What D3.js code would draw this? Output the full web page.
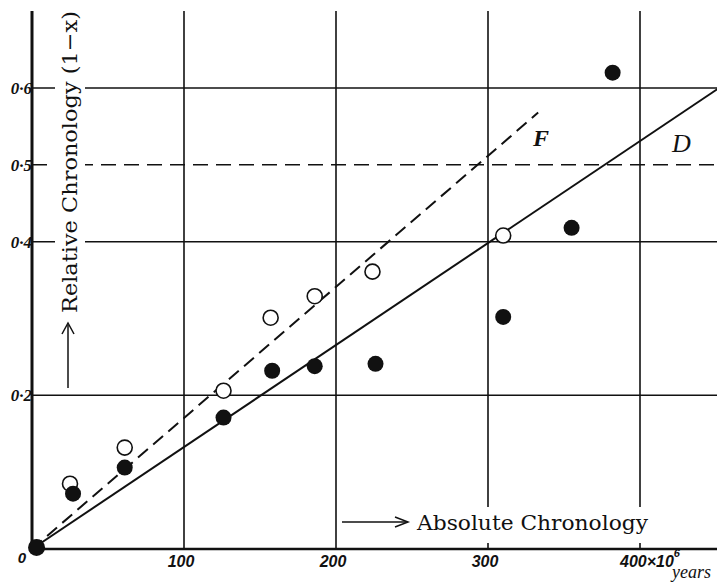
<!DOCTYPE html>
<html>
<head>
<meta charset="utf-8">
<script src="https://cdn.jsdelivr.net/npm/d3@7"></script>
<style>
  body { margin: 0; background: #fff; }
  svg { display: block; }
</style>
</head>
<body>
<div id="container"></div>
<script>
// Chart data
var xGrid = [100, 200, 300, 400];
var yGridSolid = [0.2, 0.4, 0.6];
var yGridDashed = [0.5];
var xTickLabels = ["100", "200", "300"];
var yTicks = [0.2, 0.4, 0.5, 0.6];
var yTickLabels = ["0·2", "0·4", "0·5", "0·6"];

// open circles (F)
var openX = [25, 61, 126, 157, 186, 224, 310];
var openY = [0.085, 0.132, 0.206, 0.301, 0.329, 0.361, 0.408];
// filled circles (D)
var filledX = [3, 27, 61, 126, 158, 186, 226, 310, 355, 382];
var filledY = [0.002, 0.072, 0.106, 0.171, 0.232, 0.238, 0.241, 0.302, 0.418, 0.62];

// fitted lines
var lineD = [[0, 0], [452, 0.6]];
var lineF = [[0, 0], [333, 0.568]];

var svg_width = 717
var svg_height = 582

var svg = d3.select("#container")
    .append("svg")
    .attr("width", svg_width)
    .attr("height", svg_height)

var x = d3.scaleLinear().domain([0, 400]).range([32, 640]);
var y = d3.scaleLinear().domain([0, 0.6]).range([549, 88]);

var ink = "#111";

// vertical grid
svg.append("g").selectAll("line")
    .data(xGrid)
    .enter()
    .append("line")
    .attr("x1", d => x(d)).attr("x2", d => x(d))
    .attr("y1", 11).attr("y2", y(0))
    .attr("stroke", ink).attr("stroke-width", 1.6);

// horizontal grid
svg.append("g").selectAll("line")
    .data(yGridSolid)
    .enter()
    .append("line")
    .attr("x1", x(0)).attr("x2", svg_width)
    .attr("y1", d => y(d)).attr("y2", d => y(d))
    .attr("stroke", ink).attr("stroke-width", 1.5);

svg.append("g").selectAll("line")
    .data(yGridDashed)
    .enter()
    .append("line")
    .attr("x1", x(0)).attr("x2", svg_width)
    .attr("y1", d => y(d)).attr("y2", d => y(d))
    .attr("stroke", ink).attr("stroke-width", 1.5)
    .attr("stroke-dasharray", "15,8");

// axes
svg.append("line")
    .attr("x1", x(0)).attr("x2", x(0))
    .attr("y1", 11).attr("y2", y(0) + 1)
    .attr("stroke", ink).attr("stroke-width", 3);
svg.append("line")
    .attr("x1", x(0) - 1).attr("x2", svg_width)
    .attr("y1", y(0)).attr("y2", y(0))
    .attr("stroke", ink).attr("stroke-width", 2.6);

// y axis title with white backing
var yTitle = svg.append("g").attr("transform", "translate(77,313) rotate(-90)");
yTitle.append("rect")
    .attr("x", -4).attr("y", -22).attr("width", 310).attr("height", 30)
    .attr("fill", "#fff");
yTitle.append("text")
    .attr("x", 0).attr("y", 0)
    .attr("font-family", "DejaVu Serif")
    .attr("font-size", 21)
    .attr("textLength", 302)
    .attr("lengthAdjust", "spacingAndGlyphs")
    .attr("fill", ink)
    .text("Relative Chronology (1\u2212x)");

// up arrow
svg.append("line")
    .attr("x1", 68).attr("x2", 68).attr("y1", 388).attr("y2", 325)
    .attr("stroke", ink).attr("stroke-width", 1.5);
svg.append("path")
    .attr("d", "M62,334 L68,323 L74,334")
    .attr("fill", "none").attr("stroke", ink).attr("stroke-width", 1.5);

// x axis title with white backing
svg.append("rect")
    .attr("x", 412).attr("y", 507).attr("width", 240).attr("height", 36)
    .attr("fill", "#fff");
svg.append("text")
    .attr("x", 417).attr("y", 530)
    .attr("font-family", "DejaVu Serif")
    .attr("font-size", 21)
    .attr("textLength", 231)
    .attr("lengthAdjust", "spacingAndGlyphs")
    .attr("fill", ink)
    .text("Absolute Chronology");
svg.append("line")
    .attr("x1", 342).attr("x2", 406).attr("y1", 522).attr("y2", 522)
    .attr("stroke", ink).attr("stroke-width", 1.5);
svg.append("path")
    .attr("d", "M395,517 L408,522 L395,527")
    .attr("fill", "none").attr("stroke", ink).attr("stroke-width", 1.5);

// fitted lines
var lineGen = d3.line().x(d => x(d[0])).y(d => y(d[1]));
svg.append("path")
    .attr("d", lineGen(lineD))
    .attr("fill", "none").attr("stroke", ink).attr("stroke-width", 2);
svg.append("path")
    .attr("d", lineGen(lineF))
    .attr("fill", "none").attr("stroke", ink).attr("stroke-width", 2)
    .attr("stroke-dasharray", "13,7");

// points
svg.append("g").selectAll("circle")
    .data(openX.map((d, i) => [d, openY[i]]))
    .enter()
    .append("circle")
    .attr("cx", d => x(d[0])).attr("cy", d => y(d[1]))
    .attr("r", 7.5)
    .attr("fill", "#fff").attr("stroke", ink).attr("stroke-width", 1.6);

svg.append("g").selectAll("circle")
    .data(filledX.map((d, i) => [d, filledY[i]]))
    .enter()
    .append("circle")
    .attr("cx", d => x(d[0])).attr("cy", d => y(d[1]))
    .attr("r", (d, i) => i == 0 ? 8.5 : 8)
    .attr("fill", ink);

// line labels
svg.append("text")
    .attr("x", 533).attr("y", 146)
    .attr("font-family", "Liberation Serif").attr("font-style", "italic").attr("font-weight", "bold")
    .attr("font-size", 24).attr("fill", ink)
    .text("F");
svg.append("text")
    .attr("x", 672).attr("y", 152)
    .attr("font-family", "Liberation Serif").attr("font-style", "italic")
    .attr("font-size", 26).attr("fill", ink)
    .text("D");

// tick labels
var tickFont = "Liberation Sans";
svg.append("g").selectAll("text")
    .data(xTickLabels)
    .enter()
    .append("text")
    .attr("x", (d, i) => x(xGrid[i]) - 3)
    .attr("y", 567)
    .attr("text-anchor", "middle")
    .attr("font-family", tickFont).attr("font-style", "italic").attr("font-weight", "bold")
    .attr("font-size", 16).attr("fill", ink)
    .text(d => d);

var lab400 = svg.append("text")
    .attr("x", 620).attr("y", 567)
    .attr("font-family", tickFont).attr("font-style", "italic").attr("font-weight", "bold")
    .attr("font-size", 16).attr("fill", ink);
lab400.append("tspan").text("400\u00d710");
lab400.append("tspan").attr("dy", -10).attr("font-size", 11).text("6");
svg.append("text")
    .attr("x", 672).attr("y", 578)
    .attr("font-family", "Liberation Serif").attr("font-style", "italic")
    .attr("font-size", 18).attr("fill", ink)
    .text("years");

svg.append("text")
    .attr("x", 22).attr("y", 563)
    .attr("text-anchor", "middle")
    .attr("font-family", tickFont).attr("font-style", "italic").attr("font-weight", "bold")
    .attr("font-size", 15).attr("fill", ink)
    .text("0");

svg.append("g").selectAll("text")
    .data(yTickLabels)
    .enter()
    .append("text")
    .attr("x", 32)
    .attr("y", (d, i) => y(yTicks[i]) + 6)
    .attr("text-anchor", "end")
    .attr("font-family", "Liberation Serif").attr("font-style", "italic").attr("font-weight", "bold")
    .attr("font-size", 17).attr("fill", ink)
    .text(d => d);
</script>
</body>
</html>
